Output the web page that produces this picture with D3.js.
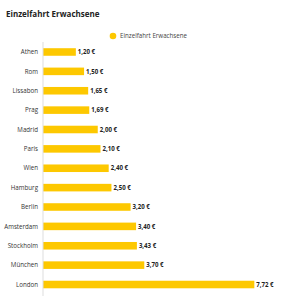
<!DOCTYPE html>
<html lang="de">
<head>
  <meta charset="UTF-8" />
  <title>Einzelfahrt Erwachsene</title>
  <script src="https://d3js.org/d3.v7.min.js"></script>
  <style>
    body { margin: 0; background: #fff; font-family: 'Open Sans', sans-serif; }
    .title { font-weight: bold; font-size: 8px; fill: #222; }
    .legend { font-size: 6.2px; fill: #444; }
    .city { font-size: 6.2px; fill: #333; }
    .value { font-size: 6.1px; font-weight: bold; fill: #222; }
  </style>
</head>
<body>
  <svg id="chart" width="300" height="300"></svg>
  <script>
    const cities = ["Athen", "Rom", "Lissabon", "Prag", "Madrid", "Paris", "Wien",
                    "Hamburg", "Berlin", "Amsterdam", "Stockholm", "München", "London"];
    const prices = [1.20, 1.50, 1.65, 1.69, 2.00, 2.10, 2.40, 2.50, 3.20, 3.40, 3.43, 3.70, 7.72];
    const seriesName = "Einzelfahrt Erwachsene";

    const svg = d3.select("#chart");
    const barColor = "#fdc800";
    const margin = { left: 43, top: 42.3, bottom: 294.2 };

    const x = d3.scaleLinear().domain([0, 8]).range([margin.left, margin.left + 219]);
    const y = d3.scaleBand().domain(cities).range([margin.top, margin.bottom]).paddingInner(0.61).paddingOuter(0.305);

    const fmt = v => v.toFixed(2).replace(".", ",") + " €";

    // title
    svg.append("text").attr("class", "title").attr("x", 6).attr("y", 17).text("Einzelfahrt Erwachsene");

    // legend
    svg.append("circle").attr("cx", 113).attr("cy", 36).attr("r", 3.3).attr("fill", barColor);
    svg.append("text").attr("class", "legend").attr("x", 120).attr("y", 38.2).text(seriesName);

    // bars
    svg.selectAll(".bar")
      .data(prices)
      .enter()
      .append("rect")
      .attr("class", "bar")
      .attr("x", x(0))
      .attr("y", (d, i) => y(cities[i]))
      .attr("width", d => x(d) - x(0))
      .attr("height", y.bandwidth())
      .attr("fill", barColor);

    // axis line
    svg.append("line")
      .attr("x1", x(0)).attr("x2", x(0))
      .attr("y1", 42).attr("y2", 296)
      .attr("stroke", "#ddd").attr("stroke-width", 1);

    // city labels
    svg.selectAll(".city")
      .data(cities)
      .enter()
      .append("text")
      .attr("class", "city")
      .attr("x", 38)
      .attr("y", d => y(d) + y.bandwidth() / 2)
      .attr("dy", "0.35em")
      .attr("text-anchor", "end")
      .text(d => d);

    // value labels
    svg.selectAll(".value")
      .data(prices)
      .enter()
      .append("text")
      .attr("class", "value")
      .attr("x", d => x(d) + 2)
      .attr("y", (d, i) => y(cities[i]) + y.bandwidth() / 2)
      .attr("dy", "0.35em")
      .text(d => fmt(d));
  </script>
</body>
</html>
